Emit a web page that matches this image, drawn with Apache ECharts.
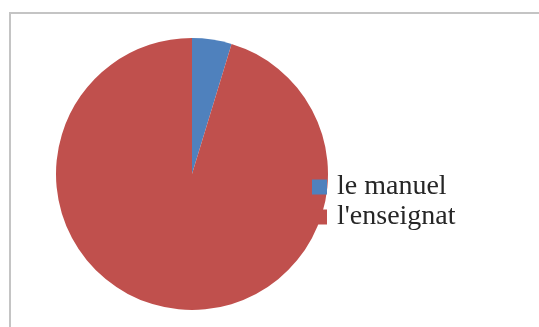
<!DOCTYPE html>
<html>
<head>
<meta charset="utf-8">
<script src="https://cdn.jsdelivr.net/npm/echarts@6/dist/echarts.min.js"></script>
<style>
  html, body { margin: 0; padding: 0; background: #ffffff; }
  #chart { width: 539px; height: 327px; }
</style>
</head>
<body>
<div id="chart"></div>
<script>
// Share of each source
const categories = ["le manuel", "l'enseignat"];
const values = [4.7, 95.3];
const colors = ['#4F81BD', '#C0504D'];

const chart = echarts.init(document.getElementById('chart'), null, { renderer: 'canvas' });

chart.setOption({
  animation: false,
  backgroundColor: '#ffffff',
  color: colors,
  graphic: [{
    type: 'rect',
    silent: true,
    shape: { x: 10, y: 13, width: 700, height: 500 },
    style: { fill: 'none', stroke: '#c4c4c4', lineWidth: 2 }
  }],
  legend: {
    orient: 'vertical',
    left: 312,
    top: 172,
    padding: 0,
    itemGap: 0,
    itemWidth: 15,
    itemHeight: 15,
    icon: 'rect',
    data: categories,
    textStyle: {
      fontFamily: 'Liberation Serif',
      fontSize: 28,
      lineHeight: 30,
      color: '#262626',
      padding: [0, 0, 0, 5]
    }
  },
  series: [{
    type: 'pie',
    center: [192, 174],
    radius: 136,
    startAngle: 90,
    clockwise: true,
    label: { show: false },
    labelLine: { show: false },
    itemStyle: { borderWidth: 0 },
    emphasis: { disabled: true },
    data: categories.map((name, i) => ({ name: name, value: values[i] }))
  }]
});
</script>
</body>
</html>
